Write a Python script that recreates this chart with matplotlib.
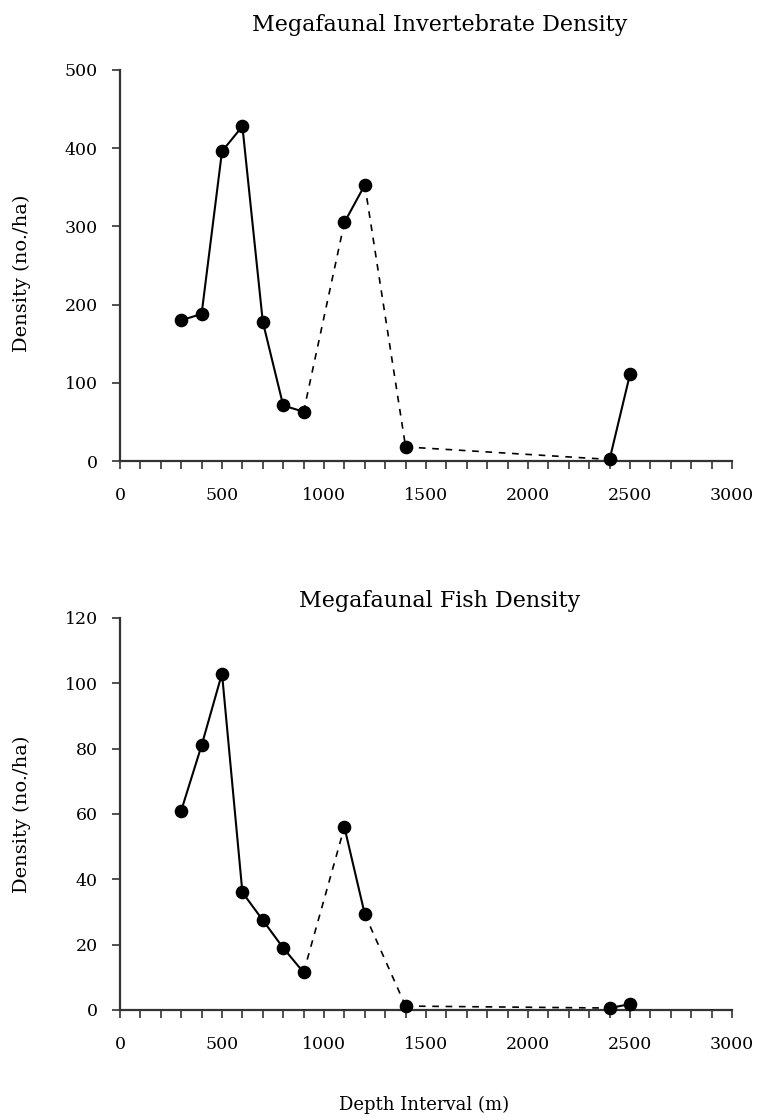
import matplotlib
matplotlib.use("Agg")
import matplotlib.pyplot as plt
from matplotlib.ticker import MultipleLocator

plt.rcParams['font.family'] = ['DejaVu Serif']

depth = [300, 400, 500, 600, 700, 800, 900, 1100, 1200, 1400, 2400, 2500]
invert = [180, 188, 396, 428, 178, 71, 63, 305, 353, 18, 2, 111]
fish = [61, 81, 103, 36, 27.5, 19, 11.5, 56, 29.3, 1.2, 0.6, 1.8]
# segment style between consecutive points: True = solid, False = dashed
solid_seg = [True, True, True, True, True, True, False, True, False, False, True]

titles = ["Megafaunal Invertebrate Density", "Megafaunal Fish Density"]
ylims = [500, 120]
ysteps = [100, 20]
ylabel = "Density (no./ha)"
xlabel = "Depth Interval (m)"

W, H = 758, 1120
fig = plt.figure(figsize=(W / 100, H / 100), dpi=100)

def box(top, bottom, left=120, right=732):
    return [left / W, 1 - bottom / H, (right - left) / W, (bottom - top) / H]

axes = [fig.add_axes(box(70, 461)), fig.add_axes(box(618, 1010))]
title_y = [25, 601]
ylabel_y = [273, 814]
axis_col = '#333333'

for ax, vals, ttl, ymax, ystep, ty, ly in zip(axes, [invert, fish], titles, ylims,
                                               ysteps, title_y, ylabel_y):
    for i in range(len(depth) - 1):
        xs = depth[i:i + 2]
        ys = vals[i:i + 2]
        if solid_seg[i]:
            ax.plot(xs, ys, color='black', lw=1.5, ls='-', zorder=3)
        else:
            ax.plot(xs, ys, color='black', lw=1.2, ls=(0, (4, 4)), zorder=3)
    ax.plot(depth, vals, ls='none', marker='o', ms=8.8, color='black', zorder=4)
    ax.set_xlim(0, 3000)
    ax.set_ylim(0, ymax)
    ax.xaxis.set_major_locator(MultipleLocator(500))
    ax.xaxis.set_minor_locator(MultipleLocator(100))
    ax.yaxis.set_major_locator(MultipleLocator(ystep))
    for s in ['top', 'right']:
        ax.spines[s].set_visible(False)
    for s in ['left', 'bottom']:
        ax.spines[s].set_linewidth(1.6)
        ax.spines[s].set_color(axis_col)
    ax.tick_params(axis='x', which='both', direction='out', length=6, width=1.2,
                   color=axis_col, labelsize=12.5, pad=13)
    ax.tick_params(axis='y', which='major', direction='out', length=6, width=1.2,
                   color=axis_col, labelsize=12.5, pad=10)
    ax.patch.set_alpha(0)
    fig.text(440 / W, 1 - ty / H, ttl, ha='center', va='center', fontsize=16)
    fig.text(22 / W, 1 - ly / H, ylabel, ha='center', va='center', fontsize=14,
             rotation=90)
    for sp in ax.spines.values():
        sp.set_clip_on(False)
    for ln in ax.lines:
        ln.set_clip_on(False)

fig.text(424 / W, 1 - 1105 / H, xlabel, ha='center', va='center', fontsize=13)

fig.savefig("out.png", dpi=100, facecolor='white')
